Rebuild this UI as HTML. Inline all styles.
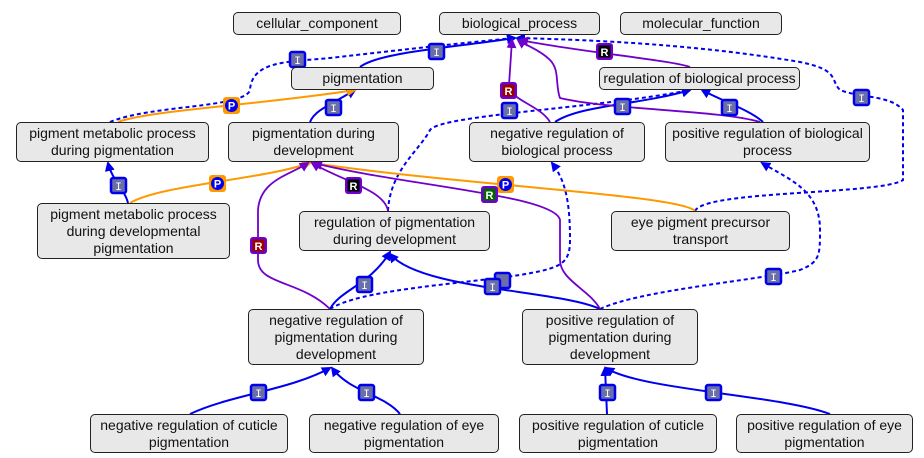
<!DOCTYPE html>
<html><head><meta charset="utf-8"><style>
body{margin:0;background:#fff;width:924px;height:458px;overflow:hidden;font-family:"Liberation Sans",sans-serif}
.n{position:absolute;background:#e8e8e8;border:1px solid #222;border-radius:5px;box-sizing:border-box;font-size:14px;line-height:17px;text-align:center;display:flex;align-items:center;justify-content:center;color:#111}
svg{position:absolute;left:0;top:0}
</style></head><body>
<svg width="924" height="458" viewBox="0 0 924 458">
<defs>
<marker id="ab" markerWidth="10" markerHeight="10" refX="8" refY="5" orient="auto" markerUnits="userSpaceOnUse"><path d="M0,0L10,5L0,10z" fill="#0000ee"/></marker>
<marker id="ap" markerWidth="10" markerHeight="10" refX="8" refY="5" orient="auto" markerUnits="userSpaceOnUse"><path d="M0,0L10,5L0,10z" fill="#7000cc"/></marker>
<marker id="ao" markerWidth="10" markerHeight="10" refX="8" refY="5" orient="auto" markerUnits="userSpaceOnUse"><path d="M0,0L10,5L0,10z" fill="#ff9900"/></marker>
</defs>
<g fill="none" stroke-width="2">
<g stroke="#0000ee" marker-end="url(#ab)">
<path d="M360,67 C380,52 450,48 515,38"/>
<path d="M310,122 C315,110 330,105 355,90"/>
<path d="M128,203 C125,190 112,180 108,163"/>
<path d="M555,122 C580,105 640,105 690,90"/>
<path d="M763,122 C750,110 720,100 702,90"/>
<path d="M330,309 C340,290 370,285 390,252"/>
<path d="M600,309 C560,290 420,290 390,254"/>
<path d="M190,414 C230,395 290,390 330,368"/>
<path d="M400,414 C385,395 350,392 332,368"/>
<path d="M607,414 L605,368"/>
<path d="M830,414 C780,395 640,390 606,368"/>
</g>
<g stroke="#0000ee" stroke-dasharray="4,3" marker-end="url(#ab)">
<path d="M110,122 C150,105 245,108 250,90 C252,60 290,62 330,58 C400,50 470,42 515,38"/>
<path d="M388,211 C390,170 420,150 430,130 C440,115 600,108 690,90"/>
<path d="M695,211 C705,190 880,195 903,180 L903,110 C890,95 860,98 840,90 C830,80 840,70 800,62 C700,45 600,40 517,38"/>
<path d="M330,309 C360,290 450,285 520,275 C560,268 570,265 570,240 C570,200 565,180 552,163"/>
<path d="M600,309 C640,290 760,280 800,270 C820,262 820,255 820,230 C820,190 790,180 762,163"/>
</g>
<g stroke="#ff9900" marker-end="url(#ao)">
<path d="M118,122 C150,110 260,105 355,90"/>
<path d="M130,203 C160,185 260,180 310,163"/>
<path d="M695,211 C680,195 460,185 312,163"/>
</g>
<g stroke="#7000cc" stroke-width="1.8" marker-end="url(#ap)">
<path d="M388,211 C385,190 340,180 312,163"/>
<path d="M330,309 C300,280 258,285 258,260 L258,210 C260,180 290,175 308,163"/>
<path d="M600,309 C590,290 560,280 560,260 L560,220 C555,195 400,185 314,163"/>
<path d="M550,122 C540,105 509,100 509,85 L512,40"/>
<path d="M760,122 C720,110 610,110 560,98 C555,85 560,70 550,60 C540,50 525,45 518,40"/>
<path d="M690,67 C670,60 580,52 520,40"/>
</g>
</g>
<g font-family="Liberation Sans,sans-serif" font-size="11" font-weight="bold" text-anchor="middle" fill="#fff">
<g stroke="#0000ee" stroke-width="2.5" fill="#6b6fa8">
<rect x="290" y="52" width="15" height="15" rx="2"/>
<rect x="429" y="44" width="15" height="15" rx="2"/>
<rect x="326" y="100" width="15" height="15" rx="2"/>
<rect x="111" y="178" width="15" height="15" rx="2"/>
<rect x="502" y="103" width="15" height="15" rx="2"/>
<rect x="615" y="99" width="15" height="15" rx="2"/>
<rect x="722" y="100" width="15" height="15" rx="2"/>
<rect x="854" y="90" width="15" height="15" rx="2"/>
<rect x="357" y="277" width="15" height="15" rx="2"/>
<rect x="495" y="273" width="15" height="15" rx="2"/>
<rect x="485" y="279" width="15" height="15" rx="2"/>
<rect x="766" y="269" width="15" height="15" rx="2"/>
<rect x="251" y="385" width="15" height="15" rx="2"/>
<rect x="359" y="385" width="15" height="15" rx="2"/>
<rect x="600" y="385" width="15" height="15" rx="2"/>
<rect x="706" y="385" width="15" height="15" rx="2"/>
</g>
<g font-family="Liberation Mono,monospace" font-weight="normal">
<text x="297.5" y="64">I</text><text x="436.5" y="56">I</text><text x="333.5" y="112">I</text><text x="118.5" y="190">I</text>
<text x="509.5" y="115">I</text><text x="622.5" y="111">I</text><text x="729.5" y="112">I</text><text x="861.5" y="102">I</text>
<text x="364.5" y="289">I</text><text x="492.5" y="291">I</text><text x="773.5" y="281">I</text>
<text x="258.5" y="397">I</text><text x="366.5" y="397">I</text><text x="607.5" y="397">I</text><text x="713.5" y="397">I</text>
</g>
<g><rect x="223" y="97" width="17" height="17" rx="3" fill="#ff9900"/><circle cx="231.5" cy="105.5" r="6.5" fill="#0000ee"/><text x="231.5" y="109.5">P</text></g>
<g><rect x="209" y="175" width="17" height="17" rx="3" fill="#ff9900"/><circle cx="217.5" cy="183.5" r="6.5" fill="#0000ee"/><text x="217.5" y="187.5">P</text></g>
<g><rect x="497" y="176" width="17" height="17" rx="3" fill="#ff9900"/><circle cx="505.5" cy="184.5" r="6.5" fill="#0000ee"/><text x="505.5" y="188.5">P</text></g>
<g><rect x="345" y="177" width="17" height="17" rx="3" fill="#7000cc"/><rect x="347.5" y="179.5" width="12" height="12" fill="#000"/><text x="353.5" y="190">R</text></g>
<g><rect x="596" y="43" width="17" height="17" rx="3" fill="#7000cc"/><rect x="598.5" y="45.5" width="12" height="12" fill="#000"/><text x="604.5" y="56">R</text></g>
<g><rect x="250" y="237" width="17" height="17" rx="3" fill="#7000cc"/><rect x="252.5" y="239.5" width="12" height="12" fill="#990000"/><text x="258.5" y="250">R</text></g>
<g><rect x="500" y="82" width="17" height="17" rx="3" fill="#7000cc"/><rect x="502.5" y="84.5" width="12" height="12" fill="#990000"/><text x="508.5" y="95">R</text></g>
<g><rect x="481" y="186" width="17" height="17" rx="3" fill="#7000cc"/><rect x="483.5" y="188.5" width="12" height="12" fill="#006600"/><text x="489.5" y="199">R</text></g>
</g>
</svg>
<div class="n" style="left:233px;top:12px;width:168px;height:23px">cellular_component</div>
<div class="n" style="left:439px;top:12px;width:161px;height:23px">biological_process</div>
<div class="n" style="left:620px;top:12px;width:162px;height:23px">molecular_function</div>
<div class="n" style="left:291px;top:67px;width:143px;height:23px">pigmentation</div>
<div class="n" style="left:599px;top:67px;width:201px;height:23px">regulation of biological process</div>
<div class="n" style="left:16px;top:122px;width:193px;height:40px">pigment metabolic process<br>during pigmentation</div>
<div class="n" style="left:228px;top:122px;width:171px;height:40px">pigmentation during<br>development</div>
<div class="n" style="left:469px;top:122px;width:176px;height:40px">negative regulation of<br>biological process</div>
<div class="n" style="left:665px;top:122px;width:205px;height:40px">positive regulation of biological<br>process</div>
<div class="n" style="left:37px;top:203px;width:193px;height:56px">pigment metabolic process<br>during developmental<br>pigmentation</div>
<div class="n" style="left:299px;top:211px;width:191px;height:40px">regulation of pigmentation<br>during development</div>
<div class="n" style="left:611px;top:211px;width:179px;height:40px">eye pigment precursor<br>transport</div>
<div class="n" style="left:248px;top:309px;width:176px;height:56px">negative regulation of<br>pigmentation during<br>development</div>
<div class="n" style="left:522px;top:309px;width:176px;height:56px">positive regulation of<br>pigmentation during<br>development</div>
<div class="n" style="left:90px;top:414px;width:198px;height:39px">negative regulation of cuticle<br>pigmentation</div>
<div class="n" style="left:309px;top:414px;width:190px;height:39px">negative regulation of eye<br>pigmentation</div>
<div class="n" style="left:519px;top:414px;width:198px;height:39px">positive regulation of cuticle<br>pigmentation</div>
<div class="n" style="left:736px;top:414px;width:177px;height:39px">positive regulation of eye<br>pigmentation</div>
</body></html>
